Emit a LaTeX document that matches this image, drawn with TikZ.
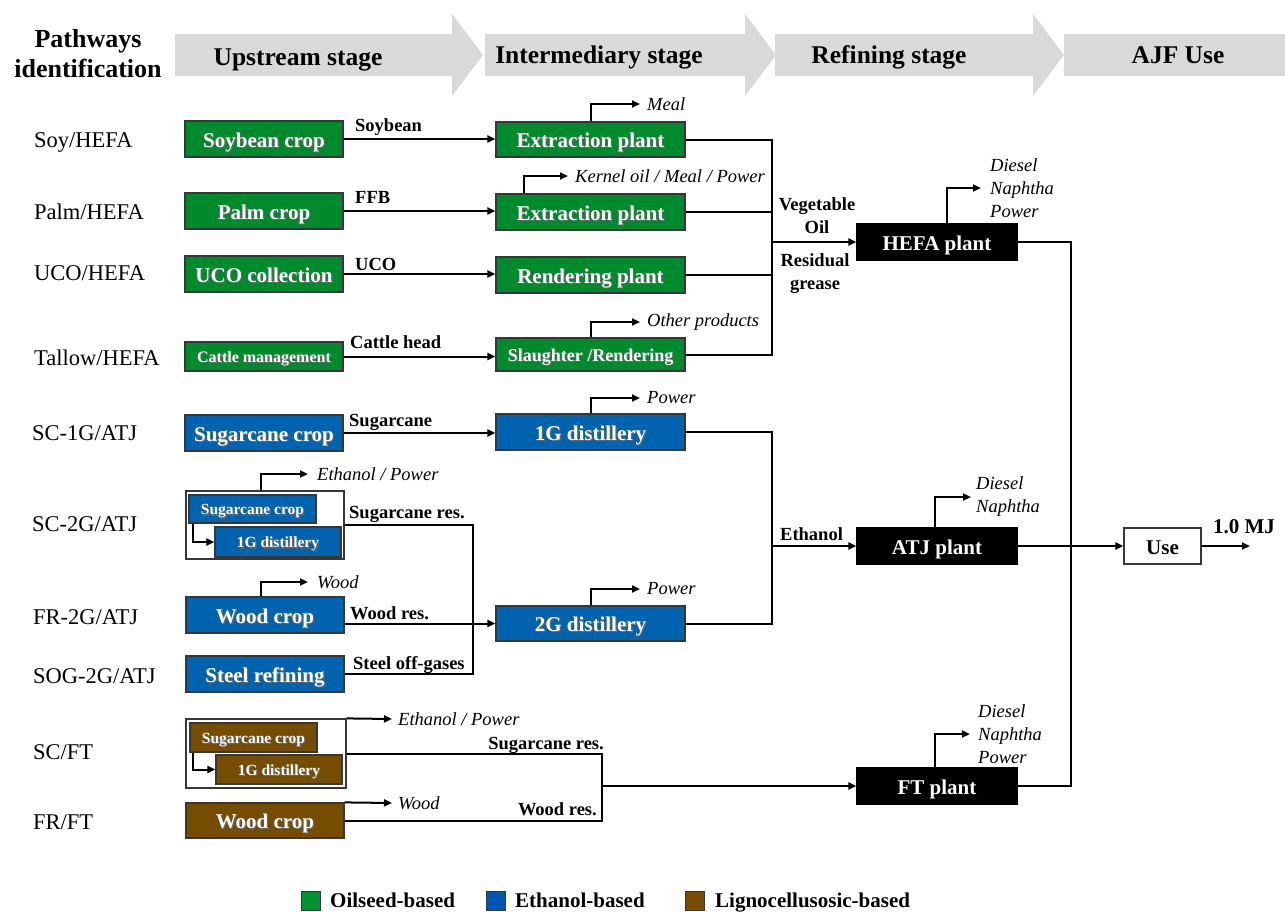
\documentclass[tikz,border=0pt]{standalone}
\usepackage{fontspec}
\setmainfont{Liberation Serif}
\usetikzlibrary{arrows.meta}
\definecolor{gr}{RGB}{0,138,46}
\definecolor{bl}{RGB}{0,99,175}
\definecolor{br}{RGB}{117,76,0}
\definecolor{legbl}{RGB}{0,84,180}
\definecolor{leggr}{RGB}{0,148,52}
\definecolor{hdr}{RGB}{217,217,217}
\definecolor{boxline}{RGB}{55,55,55}
\newcommand\shd[1]{\rlap{\hspace{1.2pt}\raisebox{-1.2pt}{\color{black!60}#1}}#1}
\tikzset{
  box/.style={draw=boxline, line width=1.2pt, inner sep=0pt, minimum height=36pt,
    text=white, font=\fontsize{21}{24}\selectfont\bfseries, text height=16pt, text depth=0pt},
  gbox/.style={box, fill=gr},
  bbox/.style={box, fill=bl},
  nbox/.style={box, fill=br},
  kbox/.style={box, fill=black, draw=black},
  smallbox/.style={font=\fontsize{15.5}{18}\selectfont\bfseries, text height=11.8pt},
  grpbox/.style={draw=boxline, line width=1.2pt, fill=white, inner sep=0pt},
  conn/.style={line width=2pt, draw=black},
  arr/.style={conn, -{Triangle[length=8pt,width=7pt]}},
  flow/.style={font=\fontsize{18.5}{23}\selectfont\bfseries, inner sep=0pt},
  prod/.style={font=\fontsize{18.5}{23}\selectfont\itshape, inner xsep=7pt, inner ysep=0pt, anchor=west, align=left},
  pathlab/.style={font=\fontsize{22.5}{26}\selectfont, inner sep=0pt, anchor=base west},
  stage/.style={font=\fontsize{25.5}{30}\selectfont\bfseries, anchor=base, inner sep=0pt},
  legtext/.style={font=\fontsize{21}{24}\selectfont\bfseries, anchor=base west, inner sep=0pt},
}
\begin{document}
\begin{tikzpicture}[x=1pt,y=-1pt]
\useasboundingbox (0,0) rectangle (1285,911);
% header arrows
\fill[hdr] (175,34) -- (452,34) -- (452,14) -- (483,55) -- (452,96) -- (452,76) -- (175,76) -- cycle;
\fill[hdr] (485,34) -- (745,34) -- (745,14) -- (776,55) -- (745,96) -- (745,76) -- (485,76) -- cycle;
\fill[hdr] (775,34) -- (1033,34) -- (1033,14) -- (1064,55) -- (1033,96) -- (1033,76) -- (775,76) -- cycle;
\fill[hdr] (1064,34) rectangle (1285,76);
\node[stage, font=\fontsize{26}{30}\selectfont\bfseries] (h0a) at (88,47) {Pathways};
\node[stage, font=\fontsize{26}{30}\selectfont\bfseries] (h0b) at (88,77) {identification};
\node[stage] (h1) at (298,65) {Upstream stage};
\node[stage] (h2) at (599,63) {Intermediary stage};
\node[stage] (h3) at (889,63) {Refining stage};
\node[stage] (h4) at (1178,63) {AJF Use};
% pathway labels
\node[pathlab] (p1) at (34,147) {Soy/HEFA};
\node[pathlab] (p2) at (34,219) {Palm/HEFA};
\node[pathlab] (p3) at (34,280) {UCO/HEFA};
\node[pathlab] (p4) at (34,365) {Tallow/HEFA};
\node[pathlab] (p5) at (32,440) {SC-1G/ATJ};
\node[pathlab] (p6) at (32,531) {SC-2G/ATJ};
\node[pathlab] (p7) at (33,624) {FR-2G/ATJ};
\node[pathlab] (p8) at (33,683) {SOG-2G/ATJ};
\node[pathlab] (p9) at (33,759) {SC/FT};
\node[pathlab] (p10) at (33,829) {FR/FT};
% upstream boxes
\node[gbox, minimum width=158pt] (soy) at (264,139) {\shd{Soybean crop}};
\node[gbox, minimum width=158pt] (palm) at (264,211) {\shd{Palm crop}};
\node[gbox, minimum width=158pt] (uco) at (264,274) {\shd{UCO collection}};
\node[gbox, minimum width=158pt, minimum height=29pt, font=\fontsize{16}{19}\selectfont\bfseries, text height=12.3pt] (cattle) at (264,356.5) {\shd{Cattle management}};
\node[bbox, minimum width=158pt] (sc1) at (264,433) {\shd{Sugarcane crop}};
\node[grpbox, minimum width=158pt, minimum height=68pt] (grp2) at (265,525) {};
\node[bbox, smallbox, minimum width=127pt, minimum height=28pt] (sc2cane) at (252.5,509) {\shd{Sugarcane crop}};
\node[bbox, smallbox, minimum width=126pt, minimum height=30pt] (sc2dist) at (278,542) {\shd{1G distillery}};
\node[bbox, minimum width=158pt] (wood2) at (265,615) {\shd{Wood crop}};
\node[bbox, minimum width=158pt] (steel) at (265,674) {\shd{Steel refining}};
\node[grpbox, minimum width=160pt, minimum height=69pt] (grpft) at (266,753.5) {};
\node[nbox, smallbox, minimum width=127pt, minimum height=29pt] (ftcane) at (253.5,737.5) {\shd{Sugarcane crop}};
\node[nbox, smallbox, minimum width=126pt, minimum height=29pt] (ftdist) at (279,769.5) {\shd{1G distillery}};
\node[nbox, minimum width=158pt, minimum height=35pt] (woodft) at (265,820.5) {\shd{Wood crop}};
% intermediary boxes
\node[gbox, minimum width=189pt, minimum height=35pt] (ext1) at (590.5,139.5) {\shd{Extraction plant}};
\node[gbox, minimum width=189pt] (ext2) at (590.5,212) {\shd{Extraction plant}};
\node[gbox, minimum width=189pt] (rend) at (590.5,275) {\shd{Rendering plant}};
\node[gbox, minimum width=189pt, minimum height=33pt, font=\fontsize{18}{21}\selectfont\bfseries, text height=13.7pt] (slaught) at (590.5,354.5) {\shd{Slaughter /Rendering}};
\node[bbox, minimum width=189pt] (dist1) at (590.5,432) {\shd{1G distillery}};
\node[bbox, minimum width=189pt, minimum height=35pt] (dist2) at (590.5,623.5) {\shd{2G distillery}};
% refining boxes
\node[kbox, minimum width=160pt] (hefa) at (937,242) {HEFA plant};
\node[kbox, minimum width=160pt] (atj) at (937,546) {ATJ plant};
\node[kbox, minimum width=160pt] (ft) at (937,786) {FT plant};
\node[box, fill=white, draw=boxline, text=black, minimum width=77pt] (use) at (1162.5,546) {Use};
% product labels
\node[prod] (meal) at (640,104) {Meal};
\node[prod] (kern) at (568,176) {Kernel oil / Meal / Power};
\node[prod] (oth) at (640,322) {Other products};
\node[prod] (pw1) at (640,398) {Power};
\node[prod] (pw2) at (640,589) {Power};
\node[prod, inner xsep=9pt] (hefap) at (981,188) {Diesel\\Naphtha\\Power};
\node[prod, inner xsep=5pt] (atjp) at (971,497) {Diesel\\Naphtha};
\node[prod, inner xsep=8pt] (ftp) at (970,734) {Diesel\\Naphtha\\Power};
\node[prod, inner xsep=9pt] (grp2p) at (308,474) {Ethanol / Power};
\node[prod, inner xsep=9pt] (wood2p) at (308,582) {Wood};
\node[prod, inner xsep=6pt] (grpftp) at (392,719) {Ethanol / Power};
\node[prod, inner xsep=6pt] (woodftp) at (392,803) {Wood};
% flow labels
\node[flow, anchor=base west] (l1) at (355,131) {Soybean};
\node[flow, anchor=base west] (l2) at (355,203) {FFB};
\node[flow, anchor=base west] (l3) at (355,270) {UCO};
\node[flow, anchor=base west] (l4) at (350,348) {Cattle head};
\node[flow, anchor=base west] (l5) at (349,426) {Sugarcane};
\node[flow, anchor=base west] (l6) at (349,518) {Sugarcane res.};
\node[flow, anchor=base west] (l7) at (350,619) {Wood res.};
\node[flow, anchor=base west] (l8) at (353,669) {Steel off-gases};
\node[flow, anchor=base east] (l9) at (604,749) {Sugarcane res.};
\node[flow, anchor=base east] (l10) at (597,815) {Wood res.};
\node[flow, anchor=base west] (l11) at (780,540) {Ethanol};
\node[flow, align=center] (l12) at (817,215.5) {Vegetable\\Oil};
\node[flow, align=center] (l13) at (815,273.5) {Residual\\grease};
\node[flow, anchor=base, font=\fontsize{21}{24}\selectfont\bfseries] (l14) at (1244,533) {1.0 MJ};
% junction coordinates
\coordinate (hj) at (772,242);
\coordinate (ej) at (772,546);
\coordinate (uj) at (1071,546);
\coordinate (sj) at (473,623.5);
\coordinate (fj) at (602,786);
\coordinate (mj) at (1250,546);
% upstream -> intermediary
\draw[arr] (soy.east) -- (soy.east -| ext1.west);
\draw[arr] (palm.east) -- (palm.east -| ext2.west);
\draw[arr] (uco.east) -- (uco.east -| rend.west);
\draw[arr] (cattle.east) -- (cattle.east -| slaught.west);
\draw[arr] (sc1.east) -- (sc1.east -| dist1.west);
\draw[arr] (wood2.east |- dist2.west) -- (dist2.west);
\draw[conn] (grp2.east) -| (sj) |- (steel.east);
\draw[conn] (grpft.east) -| (fj);
\draw[conn] (woodft.east) -| (fj);
\draw[arr] (fj) -- (ft.west);
% inner group arrows
\draw[arr] ([xshift=5pt]sc2cane.south west) |- (sc2dist.west);
\draw[arr] ([xshift=4pt]ftcane.south west) |- (ftdist.west);
% intermediary -> refining
\draw[conn] (ext1.east) -| (hj);
\draw[conn] (slaught.east) -| (hj);
\draw[conn] (ext2.east) -- (ext2.east -| hj);
\draw[conn] (rend.east) -- (rend.east -| hj);
\draw[arr] (hj) -- (hefa.west);
\draw[conn] (dist1.east) -| (ej);
\draw[conn] (dist2.east) -| (ej);
\draw[arr] (ej) -- (atj.west);
% refining -> use
\draw[conn] (hefa.east) -| (uj);
\draw[conn] (ft.east) -| (uj);
\draw[arr] (atj.east) -- (use.west);
\draw[arr] (use.east) -- (mj);
% co-product arrows
\draw[arr] (ext1.north) |- (meal.west);
\draw[arr] ([xshift=-67pt]ext2.north) |- (kern.west);
\draw[arr] (slaught.north) |- (oth.west);
\draw[arr] (dist1.north) |- (pw1.west);
\draw[arr] (dist2.north) |- (pw2.west);
\draw[arr] ([xshift=10pt]hefa.north) |- (hefap.west);
\draw[arr] ([xshift=-2pt]atj.north) |- (atjp.west);
\draw[arr] ([xshift=-2pt]ft.north) |- (ftp.west);
\draw[arr] ([xshift=-4pt]grp2.north) |- (grp2p.west);
\draw[arr] ([xshift=-4pt]wood2.north) |- (wood2p.west);
\draw[arr] (grpft.north east) -- (grpftp.west);
\draw[arr] (woodft.north east) -- (woodftp.west);
% legend
\node[draw=boxline, line width=1pt, fill=leggr, minimum size=19pt, inner sep=0pt] (lg1) at (311,900.5) {};
\node[legtext] (lt1) at (330,907) {Oilseed-based};
\node[draw=boxline, line width=1pt, fill=legbl, minimum size=19pt, inner sep=0pt] (lg2) at (496,900.5) {};
\node[legtext] (lt2) at (515,907) {Ethanol-based};
\node[draw=boxline, line width=1pt, fill=br, minimum size=19pt, inner sep=0pt] (lg3) at (695,900.5) {};
\node[legtext] (lt3) at (715,907) {Lignocellusosic-based};
\end{tikzpicture}
\end{document}
